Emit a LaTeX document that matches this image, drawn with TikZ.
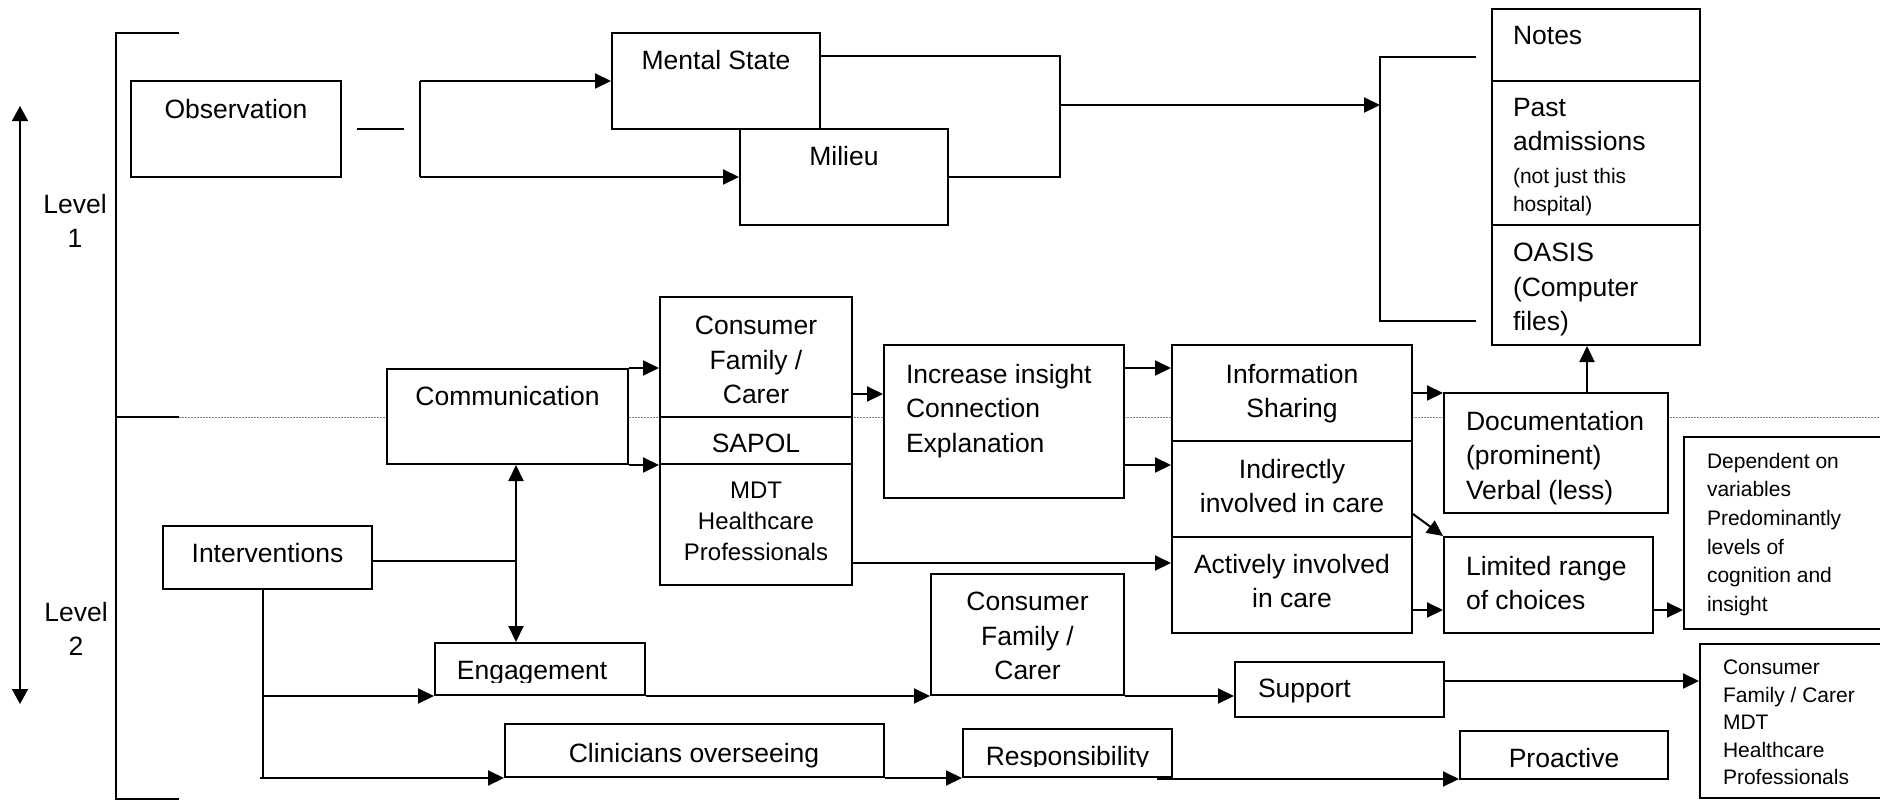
\documentclass[tikz,border=0pt]{standalone}
\usepackage{fontspec}
\setmainfont{Liberation Sans}
\usetikzlibrary{arrows.meta,calc,fit}

\newcommand\fmain{\fontsize{26.5pt}{34.5pt}\selectfont}
\newcommand\fmdt{\fontsize{24pt}{31pt}\selectfont}
\newcommand\fsmall{\fontsize{21pt}{28.6pt}\selectfont}
\newcommand\flist{\fontsize{21pt}{27.5pt}\selectfont}
% rectangle node spanning (x1,y1)-(x2,y2)
\newcommand\mkbox[5]{\node[box,fit={(#2,#3) (#4,#5)}] (#1) {};}

\begin{document}
\begin{tikzpicture}[x=1pt,y=-1pt,line width=2pt,
  box/.style={draw,fill=white,inner sep=0pt,line width=2pt},
  lbl/.style={inner sep=0pt,anchor=north,align=center,font=\fmain},
  lbll/.style={inner sep=0pt,anchor=north west,align=left,font=\fmain},
  arr/.style={-{Triangle[length=16pt,width=15pt]}},
  dblarr/.style={{Triangle[length=16pt,width=15pt]}-{Triangle[length=16pt,width=15pt]}},
  levelarr/.style={line width=1.6pt,{Triangle[length=15pt,width=16pt]}-{Triangle[length=15pt,width=16pt]}},
  divider/.style={draw=gray,line width=1pt,dash pattern=on 1.5pt off 1.5pt}]

\useasboundingbox (0,0) rectangle (1880,800);
\clip (0,0) rectangle (1880,800);

% level divider
\draw[divider] (179,417) -- (1880,417);

% level bracket
\draw (179,33) -- (116,33) -- (116,799) -- (179,799);
\draw (116,417) -- (179,417);

% level arrow and labels
\coordinate (lvU) at (20,106);
\coordinate (lvD) at (20,704);
\draw[levelarr] (lvU) -- (lvD);
\node[lbl] (lv1) at (75,193) {Level\\1};
\node[lbl] (lv2) at (76,601) {Level\\2};

% ---------- boxes ----------
\mkbox{obs}{131}{81}{341}{177}
\mkbox{ms}{612}{33}{820}{129}
\mkbox{mil}{740}{129}{948}{225}
\mkbox{notes}{1492}{9}{1700}{81}
\mkbox{past}{1492}{81}{1700}{225}
\mkbox{oasis}{1492}{225}{1700}{345}
\mkbox{comm}{387}{369}{628}{464}
\mkbox{cons}{660}{297}{852}{417}
\mkbox{sapol}{660}{417}{852}{464}
\mkbox{mdt}{660}{464}{852}{585}
\mkbox{incr}{884}{345}{1124}{498}
\mkbox{info}{1172}{345}{1412}{441}
\mkbox{ind}{1172}{441}{1412}{537}
\mkbox{act}{1172}{537}{1412}{633}
\mkbox{doc}{1444}{393}{1668}{513}
\mkbox{lim}{1444}{537}{1653}{633}
\mkbox{dep}{1684}{437}{1900}{629}
\mkbox{intv}{163}{526}{372}{589}
\mkbox{eng}{435}{643}{645}{695}
\mkbox{cons2}{931}{574}{1124}{695}
\mkbox{sup}{1235}{662}{1444}{717}
\mkbox{lst}{1700}{644}{1900}{798}
\mkbox{clin}{505}{724}{884}{777}
\mkbox{resp}{963}{729}{1172}{777}
\mkbox{pro}{1460}{731}{1668}{779}

% ---------- texts ----------
\node[lbl] (obs-t) at (236,98) {Observation};
\node[lbl] (ms-t) at (716,49) {Mental State};
\node[lbl] (mil-t) at (844,145) {Milieu};
\node[lbll] (notes-t) at (1512,25) {Notes};
\node[lbll] (past-t) at (1512,97) {Past\\admissions};
\node[lbll,font=\fsmall] (past-s) at (1512,167) {(not just this\\hospital)};
\node[lbll] (oasis-t) at (1512,242) {OASIS\\(Computer\\files)};
\node[lbl] (comm-t) at (507.5,385) {Communication};
\node[lbl] (cons-t) at (756,315) {Consumer\\Family /\\Carer};
\node[lbl] (sapol-t) at (756,433) {SAPOL};
\node[lbl,font=\fmdt] (mdt-t) at (756,481) {MDT\\Healthcare\\Professionals};
\node[lbll] (incr-t) at (905,363) {Increase insight\\Connection\\Explanation};
\node[lbl] (info-t) at (1292,363) {Information\\Sharing};
\node[lbl] (ind-t) at (1292,458) {Indirectly\\involved in care};
\node[lbl] (act-t) at (1292,553) {Actively involved\\in care};
\node[lbll] (doc-t) at (1465,410) {Documentation\\(prominent)\\Verbal (less)};
\node[lbll] (lim-t) at (1465,555) {Limited range\\of choices};
\node[lbll,font=\fsmall] (dep-t) at (1706,452)
  {Dependent on\\variables\\Predominantly\\levels of\\cognition and\\insight};
\node[lbl] (intv-t) at (267.5,542) {Interventions};
\begin{scope}
  \clip (eng.north west) rectangle ($(eng.south east)+(0,-14)$);
  \node[lbl] (eng-t) at (532,660) {Engagement};
\end{scope}
\node[lbl] (cons2-t) at (1027.5,591) {Consumer\\Family /\\Carer};
\node[lbll] (sup-t) at (1257,678) {Support};
\node[lbll,font=\flist] (lst-t) at (1722,659)
  {Consumer\\Family / Carer\\MDT\\Healthcare\\Professionals};
\node[lbl] (clin-t) at (694,742) {Clinicians overseeing};
\begin{scope}
  \clip (resp.north west) rectangle ($(resp.south east)+(0,-12)$);
  \node[lbl] (resp-t) at (1067.5,745) {Responsibility};
\end{scope}
\node[lbl] (pro-t) at (1564,747) {Proactive};

% ---------- connectors: level 1 ----------
\coordinate (obsA) at ($(obs.east)+(15,0)$);
\coordinate (obsB) at ($(obs.east)+(62,0)$);
\draw (obsA) -- (obsB);

\coordinate (fork) at (420,129);
\draw (fork |- ms.west) -- (fork |- mil.west);
\draw[arr] (fork |- ms.west) -- (ms.west);
\draw[arr] (fork |- mil.west) -- (mil.west);

\coordinate (mx) at (1060,105);
\draw ($(ms.north east)+(0,24)$) -| (mx |- mil.east) -- (mil.east);
\coordinate (bkT) at (1380,57);
\coordinate (bkB) at (1380,321);
\draw ($(bkT)+(96,0)$) -- (bkT) -- (bkB) -- ($(bkB)+(96,0)$);
\draw[arr] (mx) -- (mx -| bkT);

% ---------- connectors: level 2 ----------
\draw[arr] (comm.north east) -- (comm.north east -| cons.west);
\draw[arr] (comm.south east) -- (comm.south east -| cons.west);

\coordinate (consOut) at ($(cons.south east)+(0,-24)$);
\draw[arr] (consOut) -- (consOut -| incr.west);

\draw[arr] (incr.east |- comm.north) -- (info.west |- comm.north);
\draw[arr] (incr.east |- comm.south) -- (ind.west |- comm.south);

\coordinate (mdtOut) at ($(mdt.south east)+(0,-23)$);
\draw[arr] (mdtOut) -- (mdtOut -| act.west);

\draw[arr] (info.east) -- (info.east -| doc.west);
\coordinate (docUp) at ($(doc.north west)+(144,0)$);
\draw[arr] (docUp) -- (docUp |- oasis.south);

\draw[arr] ($(ind.south east)+(0,-24)$) -- (lim.north west);
\coordinate (actOut) at ($(act.south east)+(0,-24)$);
\draw[arr] (actOut) -- (actOut -| lim.west);
\coordinate (limOut) at ($(lim.south east)+(0,-24)$);
\draw[arr] (limOut) -- (limOut -| dep.west);

\coordinate (jn) at (516,561);
\draw (intv.east |- jn) -- (jn);
\draw[dblarr] (jn |- comm.south) -- (jn |- eng.north);

\coordinate (dn) at (263,0);
\draw (intv.south -| dn) -- (dn |- clin.south);
\draw[arr] (dn |- eng.south) -- (eng.south west);
\draw[arr] ($(dn |- clin.south)+(-3,0)$) -- (clin.south west);

\draw[arr] (eng.south east) -- (cons2.south west);
\draw[arr] (cons2.south east) -- (cons2.south east -| sup.west);
\coordinate (supOut) at ($(sup.north east)+(0,20)$);
\draw[arr] (supOut) -- (supOut -| lst.west);

\draw[arr] (clin.south east) -- (clin.south east -| resp.west);
\coordinate (respOut) at ($(resp.south east)+(-16,1)$);
\draw[arr] (respOut) -- (respOut -| pro.west);

\end{tikzpicture}
\end{document}
